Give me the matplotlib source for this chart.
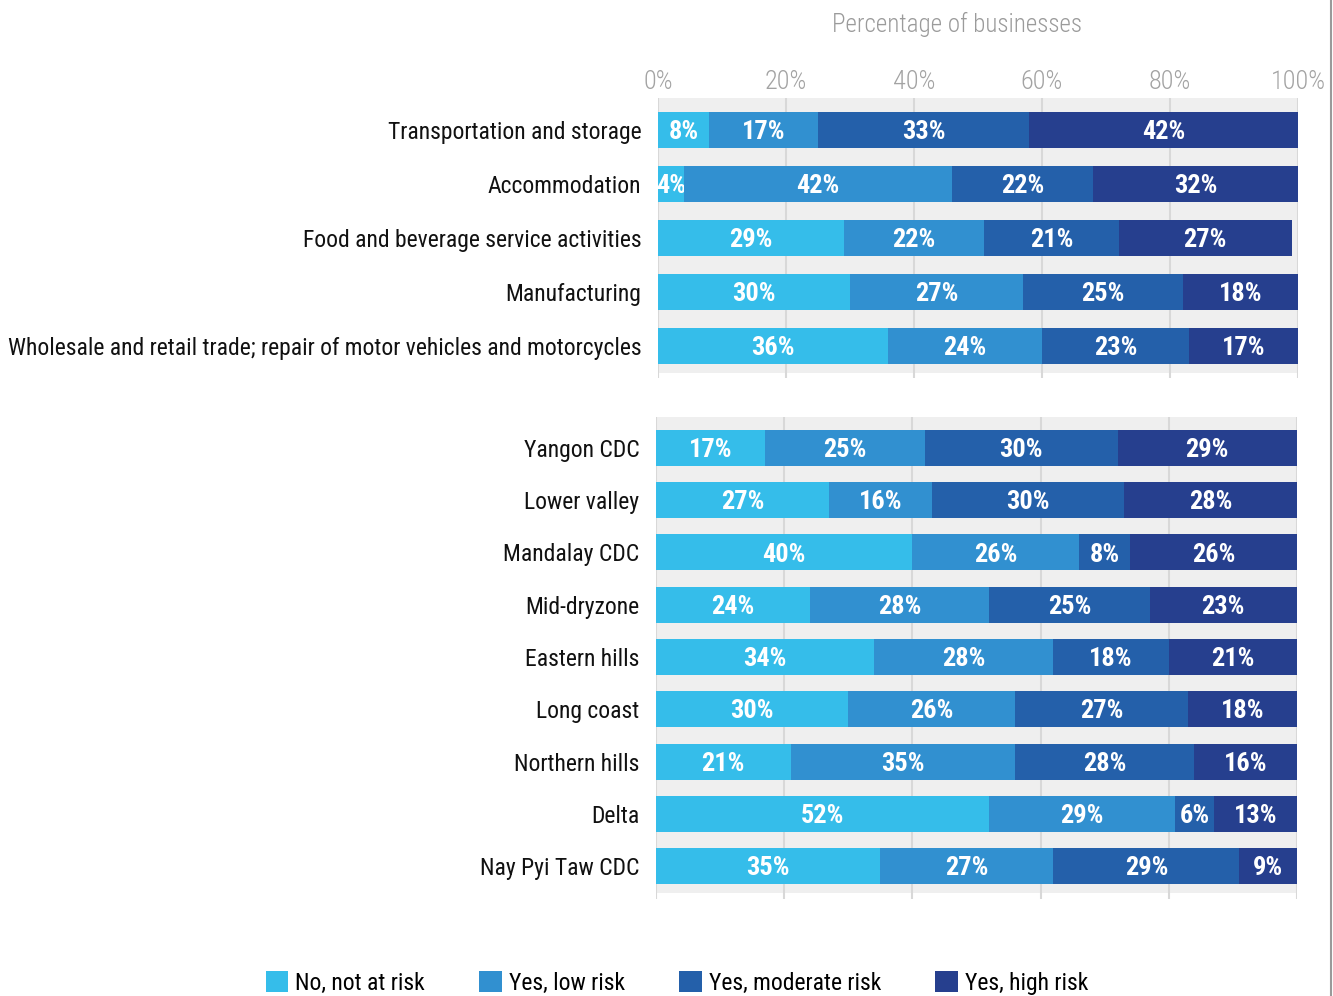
import matplotlib
matplotlib.use('Agg')
import matplotlib.pyplot as plt
from matplotlib.lines import Line2D
from matplotlib.patches import Patch

plt.rcParams['font.family'] = ['Roboto Condensed', 'Roboto', 'DejaVu Sans']

# risk levels, light to dark
risk_labels = ['No, not at risk', 'Yes, low risk', 'Yes, moderate risk', 'Yes, high risk']
risk_colors = ['#35bdea', '#3190d0', '#2460aa', '#263f8e']

sectors = ['Transportation and storage', 'Accommodation',
           'Food and beverage service activities', 'Manufacturing',
           'Wholesale and retail trade; repair of motor vehicles and motorcycles']
sector_not = [8, 4, 29, 30, 36]
sector_low = [17, 42, 22, 27, 24]
sector_moderate = [33, 22, 21, 25, 23]
sector_high = [42, 32, 27, 18, 17]

regions = ['Yangon CDC', 'Lower valley', 'Mandalay CDC', 'Mid-dryzone', 'Eastern hills',
           'Long coast', 'Northern hills', 'Delta', 'Nay Pyi Taw CDC']
region_not = [17, 27, 40, 24, 34, 30, 21, 52, 35]
region_low = [25, 16, 26, 28, 28, 26, 35, 29, 27]
region_moderate = [30, 30, 8, 25, 18, 27, 28, 6, 29]
region_high = [29, 28, 26, 23, 21, 18, 16, 13, 9]

pct_ticks = [0, 20, 40, 60, 80, 100]

W, H = 1333, 996
fig = plt.figure(figsize=(W / 100, H / 100), dpi=100)


def px_axes(x0, y0, x1, y1):
    # axes from pixel box (top-left origin)
    return fig.add_axes([x0 / W, 1 - y1 / H, (x1 - x0) / W, (y1 - y0) / H])


def stacked(ax, names, series, bar_h, pad_top, pad_bot, band_bot, top_labels):
    n = len(names)
    ys = list(range(n))
    left = [0] * n
    for vals, col in zip(series, risk_colors):
        bars = ax.barh(ys, vals, left=left, height=bar_h, color=col, zorder=3)
        anns = ax.bar_label(bars, labels=['%d%%' % v for v in vals], label_type='center',
                            color='white', fontsize=19, fontweight='bold', padding=0)
        for a in anns:
            a.xyann = (0, -1.5)
        left = [a + b for a, b in zip(left, vals)]
    ax.set_xlim(0, 100)
    ax.set_ylim(n - 1 + pad_bot, -pad_top)
    # light grey band behind the rows
    ax.axhspan(-pad_top, n - 1 + band_bot, color='#efefef', zorder=0, lw=0)
    ax.set_xticks(pct_ticks)
    ax.grid(axis='x', color='#d8d8d8', lw=1.5, zorder=1)
    ax.set_axisbelow(True)
    for s in ax.spines.values():
        s.set_visible(False)
    ax.set_yticks(ys)
    ax.set_yticklabels(names, fontsize=17, color='#111111')
    ax.tick_params(axis='y', length=0, pad=12)
    ax.xaxis.tick_top()
    ax.tick_params(axis='x', length=0, pad=3, labelsize=19, labelcolor='#a3a3a3')
    if top_labels:
        ax.set_xticklabels(['%d%%' % t for t in pct_ticks], fontweight='light')
    else:
        ax.set_xticklabels([])
    ax.set_facecolor('none')


ax1 = px_axes(658, 98, 1298, 378)
stacked(ax1, sectors, [sector_not, sector_low, sector_moderate, sector_high],
        36 / 54, 32 / 54, 32 / 54, 27 / 54, True)

ax2 = px_axes(656, 417, 1297, 899)
stacked(ax2, regions, [region_not, region_low, region_moderate, region_high],
        36 / 52.25, 31 / 52.25, 33 / 52.25, 27 / 52.25, False)

fig.text(957 / W, 1 - 24 / H, 'Percentage of businesses', ha='center', va='center',
         fontsize=18, fontweight='light', color='#9b9b9b')

handles = [Patch(facecolor=c, edgecolor='none', label=l) for c, l in zip(risk_colors, risk_labels)]
fig.legend(handles=handles, loc='center', bbox_to_anchor=(677 / W, 1 - 983 / H), ncol=4,
           frameon=False, fontsize=17, handlelength=0.95, handleheight=0.95,
           handletextpad=0.3, columnspacing=2.3, borderpad=0, borderaxespad=0)

# thin border on the right edge
fig.add_artist(Line2D([1331 / W, 1331 / W], [0, 1], color='#9a9a9a', lw=1.5,
                      transform=fig.transFigure))

fig.savefig('out.png', dpi=100)
